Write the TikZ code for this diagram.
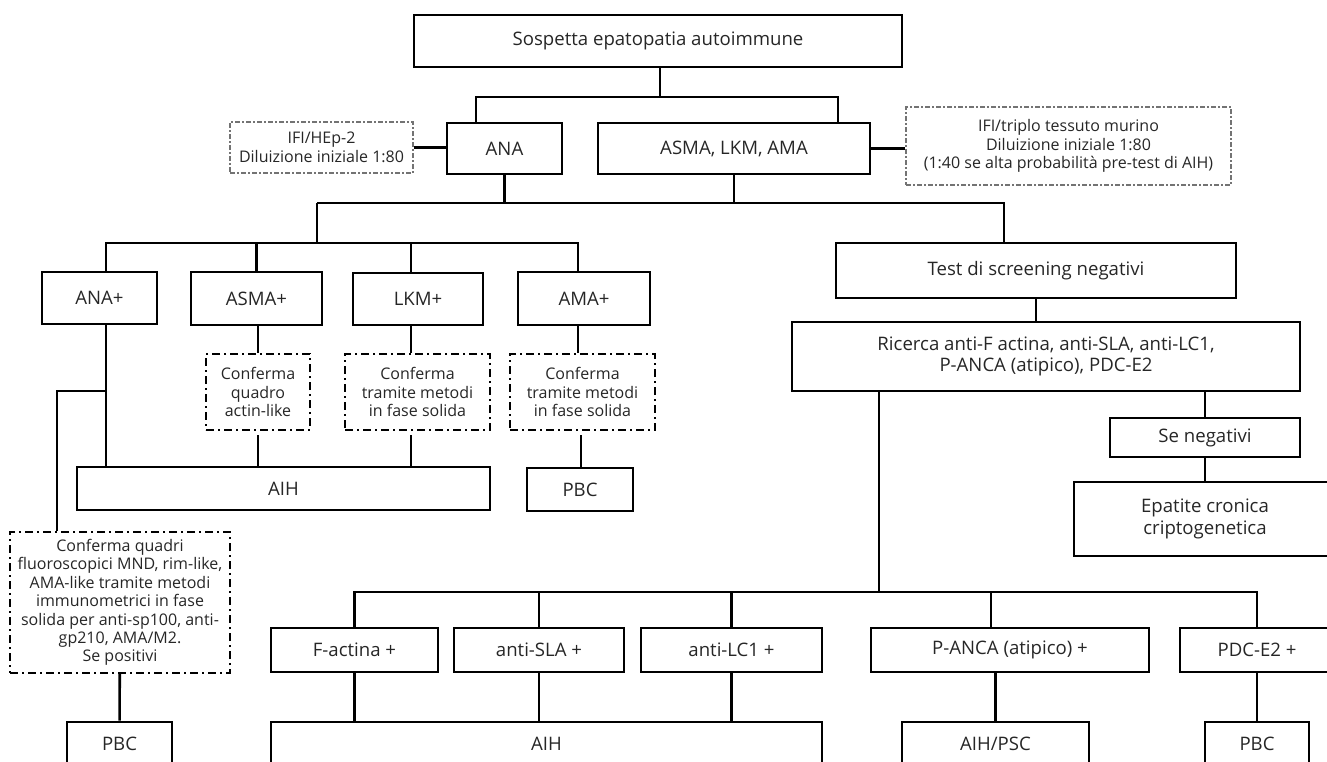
\documentclass[tikz,border=0pt]{standalone}
\usepackage{fontspec}
\setmainfont{Open Sans}
\usepackage{tikz}
\tikzstyle{box} = [rectangle, draw=black, line width=1.3pt, inner sep=0pt, align=center, text=black!85, font=\fontsize{9.3}{10.8}\selectfont]
\tikzstyle{note} = [rectangle, draw=black!55, line width=0.6pt, dash pattern=on 2.5pt off 1.2pt on 0.6pt off 1.2pt, inner sep=0pt, align=center, text=black!85, font=\fontsize{8}{9.2}\selectfont]
\tikzstyle{confirm} = [rectangle, draw=black, line width=1pt, dash pattern=on 4pt off 2pt on 1pt off 2pt, inner sep=0pt, align=center, text=black!85, font=\fontsize{8}{9.2}\selectfont]
\tikzstyle{link} = [line width=1.3pt]

\begin{document}
\begin{tikzpicture}[x=0.5pt, y=-0.5pt]

\useasboundingbox (0,0) rectangle (1327,761);
\clip (0,0) rectangle (1327,761);

\node (susp) [box, minimum width=244pt, minimum height=26pt] at (658,41) {Sospetta epatopatia autoimmune};
\node (ifihep) [note, minimum width=91.5pt, minimum height=25.5pt] at (321.5,147.5) {IFI/HEp-2\\Diluizione iniziale 1:80};
\node (ana) [box, minimum width=57.5pt, minimum height=25.5pt] at (504.5,148.5) {ANA};
\node (asma) [box, minimum width=136pt, minimum height=25.5pt] at (734,148.5) {ASMA, LKM, AMA};
\node (ifitri) [note, minimum width=162.5pt, minimum height=39pt] at (1068.5,146) {IFI/triplo tessuto murino\\Diluizione iniziale 1:80\\(1:40 se alta probabilità pre-test di AIH)};

\node (anap) [box, minimum width=57.5pt, minimum height=26pt] at (99.5,298) {ANA+};
\node (asmap) [box, minimum width=65.5pt, minimum height=26.5pt] at (256.5,298.5) {ASMA+};
\node (lkmp) [box, minimum width=65pt, minimum height=26pt] at (418,299) {LKM+};
\node (amap) [box, minimum width=66pt, minimum height=26.5pt] at (584,298.5) {AMA+};
\node (conf1) [confirm, minimum width=52pt, minimum height=38pt] at (258,392) {Conferma\\quadro\\actin-like};
\node (conf2) [confirm, minimum width=72.5pt, minimum height=38pt] at (417.5,392) {Conferma\\tramite metodi\\in fase solida};
\node (conf3) [confirm, minimum width=72.5pt, minimum height=38pt] at (582.5,392) {Conferma\\tramite metodi\\in fase solida};
\node (aih1) [box, minimum width=206.5pt, minimum height=21.5pt] at (283.5,488.5) {AIH};
\node (pbc1) [box, minimum width=53pt, minimum height=21.5pt] at (580,489.5) {PBC};
\node (confbig) [confirm, minimum width=110pt, minimum height=70.5pt] at (120,602.5) {Conferma quadri\\fluoroscopici MND, rim-like,\\AMA-like tramite metodi\\immunometrici in fase\\solida per anti-sp100, anti-\\gp210, AMA/M2.\\Se positivi};
\node (pbc0) [box, minimum width=52.5pt, minimum height=22pt] at (119.5,744) {PBC};

\node (test) [box, minimum width=200pt, minimum height=27.5pt] at (1036,270.5) {Test di screening negativi};
\node (ricerca) [box, minimum width=254pt, minimum height=34.5pt] at (1046,356.5) {Ricerca anti-F actina, anti-SLA, anti-LC1,\\P-ANCA (atipico), PDC-E2};
\node (seneg) [box, minimum width=95pt, minimum height=19.5pt] at (1205,437.5) {Se negativi};
\node (epat) [box, minimum width=131pt, minimum height=37pt] at (1205,519) {Epatite cronica\\criptogenetica};
\node (factina) [box, minimum width=83.5pt, minimum height=22pt] at (354.5,650) {F-actina +};
\node (antisla) [box, minimum width=85pt, minimum height=22pt] at (539,650) {anti-SLA +};
\node (antilc1) [box, minimum width=90.5pt, minimum height=22pt] at (731.5,650) {anti-LC1 +};
\node (panca) [box, minimum width=139pt, minimum height=22pt] at (1010,650) {P-ANCA (atipico) +};
\node (pdce2) [box, minimum width=77pt, minimum height=22pt] at (1257,650) {PDC-E2 +};
\node (aih2) [box, minimum width=275.5pt, minimum height=22pt] at (546.5,744) {AIH};
\node (aihpsc) [box, minimum width=93.5pt, minimum height=22pt] at (995.5,744) {AIH/PSC};
\node (pbc2) [box, minimum width=52pt, minimum height=22pt] at (1257,744) {PBC};

\coordinate (fk0) at (660,97);
\coordinate (fkA) at (476,97);
\coordinate (fkB) at (838,97);
\coordinate (mL) at (317,203);
\coordinate (mR) at (1004,203);
\coordinate (rL) at (106,243);
\coordinate (rR) at (578,243);
\coordinate (lkmx) at (411,0);
\coordinate (pbcx) at (581,0);
\coordinate (anab) at (106,391);
\coordinate (bigx) at (57,0);
\coordinate (hb) at (879,592);
\coordinate (pancx) at (991,0);

\draw [link] (susp.south -| fk0) -- (fk0);
\draw [link] (ana.north -| fkA) -- (fkA) -- (fkB) -- (asma.north -| fkB);
\draw [link] (ifihep.east) -- (ifihep.east -| ana.west);
\draw [link] (asma.east) -- (asma.east -| ifitri.west);
\draw [link] (ana.south) -- (ana.south |- mL);
\draw [link] (asma.south) -- (asma.south |- mL);
\draw [link] (mL) -- (mR) -- (test.north -| mR);
\draw [link] (mL) -- (mL |- rL);
\draw [link] (anap.north -| rL) -- (rL) -- (rR) -- (amap.north -| rR);
\draw [link] (asmap.north) -- (asmap.north |- rL);
\draw [link] (lkmp.north -| lkmx) -- (rL -| lkmx);

\draw [link] (anap.south -| rL) -- (aih1.north -| rL);
\draw [link] (anab) -| (confbig.north -| bigx);
\draw [link] (conf1.north |- asmap.south) -- (conf1.north);
\draw [link] (lkmp.south -| lkmx) -- (conf2.north -| lkmx);
\draw [link] (amap.south -| rR) -- (conf3.north -| rR);
\draw [link, shorten <=2pt] (conf1.south) -- (conf1.south |- aih1.north);
\draw [link, shorten <=2pt] (conf2.south -| lkmx) -- (aih1.north -| lkmx);
\draw [link, shorten <=2pt] (conf3.south -| pbcx) -- (pbc1.north -| pbcx);
\draw [link] (confbig) -- (pbc0);

\draw [link] (test.south) -- (test.south |- ricerca.north);
\draw [link] (ricerca.south -| seneg.north) -- (seneg.north);
\draw [link] (seneg) -- (epat);
\draw [link] (ricerca.south -| hb) -- (hb);
\draw [link] (factina.north) |- (hb) -| (pdce2.north);
\draw [link] (antisla.north) -- (antisla.north |- hb);
\draw [link] (antilc1.north) -- (antilc1.north |- hb);
\draw [link] (panca.north -| pancx) -- (hb -| pancx);
\draw [link] (factina.south) -- (factina.south |- aih2.north);
\draw [link] (antisla.south) -- (antisla.south |- aih2.north);
\draw [link] (antilc1.south) -- (antilc1.south |- aih2.north);
\draw [link] (aihpsc.north |- panca.south) -- (aihpsc.north);
\draw [link] (pdce2) -- (pbc2);

\end{tikzpicture}
\end{document}
